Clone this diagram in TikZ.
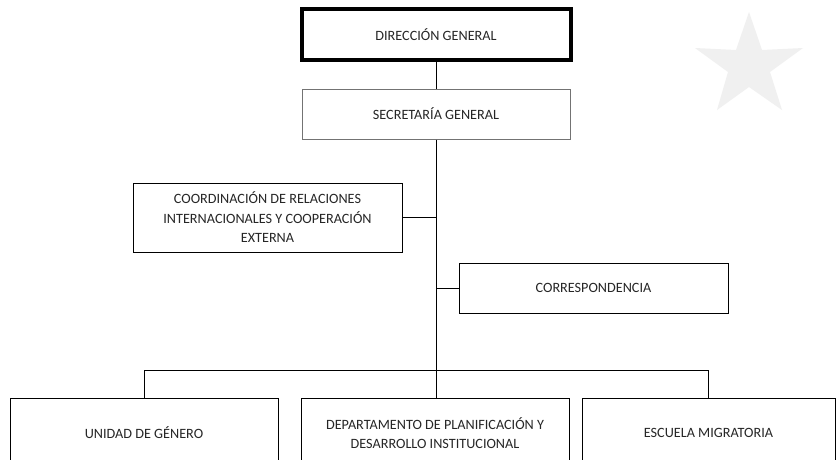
\documentclass[tikz,border=0pt]{standalone}
\usepackage{fontspec}
\setmainfont{Carlito}
\begin{document}
\begin{tikzpicture}[x=1pt,y=-1pt,
  unit/.style={draw=black, line width=1pt, rectangle, inner sep=0pt, align=center,
    font=\fontsize{14.2}{19.5}\selectfont, text=black!85},
  link/.style={draw=black, line width=1pt}]
\useasboundingbox (0,0) rectangle (840,459);
\clip (0,0) rectangle (840,459);
\fill[white] (0,0) rectangle (840,459);

% decorative star, top right
\fill[black!6] (749,12) -- (762,50) -- (803,48) -- (770,72) -- (782,110)
  -- (749,87) -- (717,110) -- (728,72) -- (695,48) -- (736,50) -- cycle;

% units
\node[unit, line width=4pt, minimum width=269pt, minimum height=51pt] (dir) at (436,34.5) {DIRECCIÓN GENERAL};
\node[unit, draw=black!55, minimum width=268pt, minimum height=50pt] (sec) at (436,114) {SECRETARÍA GENERAL};
\node[unit, minimum width=269pt, minimum height=69pt] (coord) at (267.5,217.5)
  {COORDINACIÓN DE RELACIONES\\INTERNACIONALES Y COOPERACIÓN\\EXTERNA};
\node[unit, minimum width=269pt, minimum height=50pt] (corr) at (593.5,288) {CORRESPONDENCIA};
\node[unit, minimum width=268pt, minimum height=70pt] (uni) at (144,433) {UNIDAD DE GÉNERO};
\node[unit, minimum width=268pt, minimum height=70pt] (dep) at (435,433)
  {DEPARTAMENTO DE PLANIFICACIÓN Y\\DESARROLLO INSTITUCIONAL};
\node[unit, minimum width=253pt, minimum height=70pt] (esc) at (708.5,433) {ESCUELA MIGRATORIA};

% connectors
\coordinate (hub) at (436,370);
\draw[link] (dir.south) -- (sec.north);
\draw[link] (sec.south) -- (hub);
\draw[link] (coord.east) -- (coord.east -| hub);
\draw[link] (corr.west) -- (corr.west -| hub);
\draw[link] (uni.north) |- (hub) -| (esc.north);
\draw[link] (hub) -- (hub |- dep.north);
\end{tikzpicture}
\end{document}
